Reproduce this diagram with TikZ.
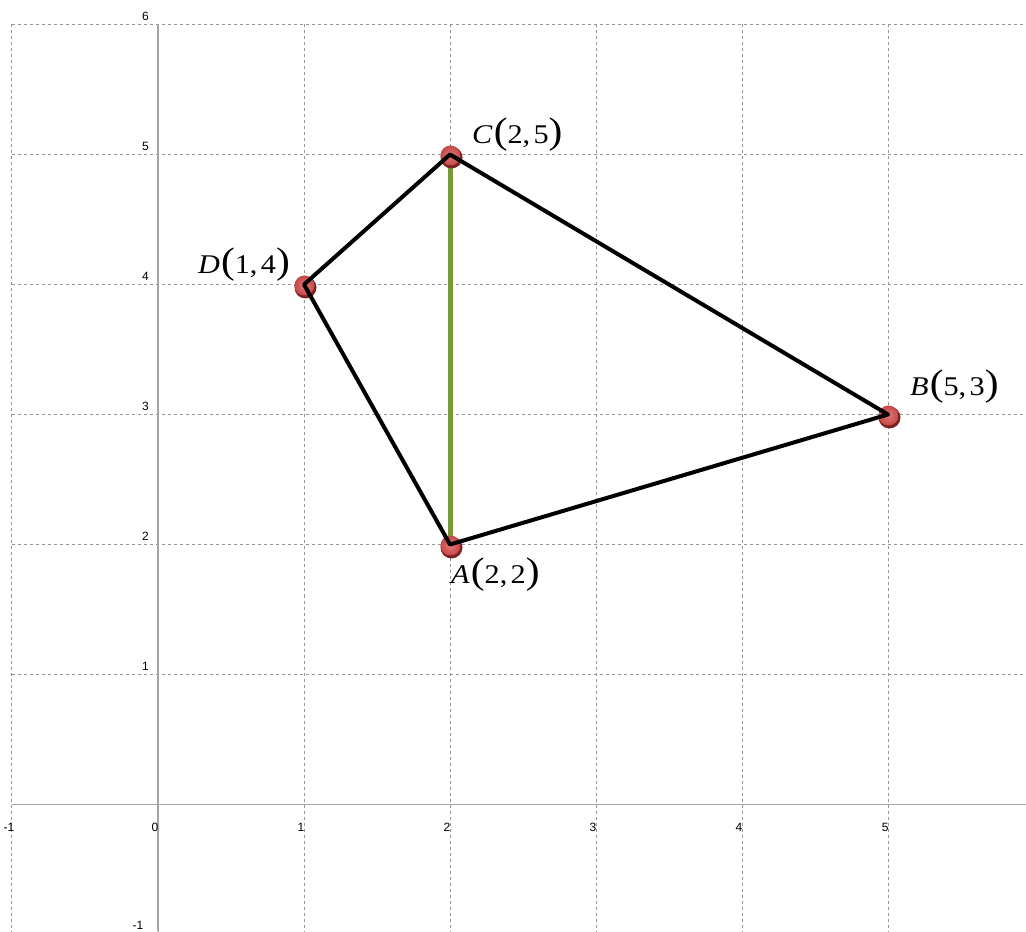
\documentclass[tikz,border=0pt]{standalone}
\usepackage{graphicx}
\usepackage{fontspec}
\setmainfont{Liberation Serif}
\newfontfamily\ticksf{Liberation Sans}
\newcommand{\bigpar}[1]{{\fontsize{37}{37}\selectfont #1}}
\newcommand{\ptlabel}[3]{\scalebox{1.12}[1]{\textit{#1}\hspace{1pt}\bigpar{(}#2,\hspace{3pt}#3\bigpar{)}}}
\definecolor{gridgray}{RGB}{150,150,150}
\definecolor{axisgray}{RGB}{165,165,165}
\definecolor{segGreen}{RGB}{122,154,58}
\definecolor{ptLight}{RGB}{228,118,118}
\definecolor{ptMid}{RGB}{196,72,72}
\definecolor{ptDark}{RGB}{125,35,35}
\tikzset{
  gridline/.style={draw=gridgray, line width=1pt, dash pattern=on 3pt off 3pt},
  axisline/.style={draw=axisgray, line width=1.6pt},
  edge/.style={draw=black, line width=4pt, line cap=round, line join=round},
  midseg/.style={draw=segGreen, line width=5pt},
  ptshadow/.style={circle, inner sep=0pt, minimum size=22pt, fill=ptDark},
  ptball/.style={circle, inner sep=0pt, minimum size=20pt, shading=radial, inner color=ptLight, outer color=ptMid},
  ticklab/.style={inner sep=0pt, font=\ticksf\fontsize{12}{12}\selectfont},
  ptlab/.style={inner sep=0pt, font=\fontsize{27}{27}\selectfont}
}
\begin{document}
\begin{tikzpicture}[x=146pt, y=130pt]
\path[use as bounding box] (-1.0822,-0.9731) rectangle (5.9452,6.1885);
% grid
\foreach \x in {-1,...,5} \draw[gridline] (\x,6) -- (\x,-0.9731);
\foreach \y in {0,...,6} \draw[gridline] (-1,\y) -- (5.9452,\y);
% axes
\draw[axisline] (-1,0) -- (5.9452,0);
\draw[axisline] (0,6) -- (0,-0.9731);
% tick labels
\foreach \x in {-1,...,5} \node[ticklab] (xl\x) at (\x-0.02,-0.173) {\x};
\foreach \y in {1,...,6} \node[ticklab] (yl\y) at (-0.086,\y+0.065) {\y};
\node[ticklab] (ylm1) at (-0.137,-0.928) {-1};
% points
\coordinate (A) at (2,2);
\coordinate (B) at (5,3);
\coordinate (C) at (2,5);
\coordinate (D) at (1,4);
\draw[midseg] (A) -- (C);
\foreach \p in {A,B,C,D} {
  \node[ptshadow] (shadow\p) at ([shift={(1.5pt,-3pt)}]\p) {};
  \node[ptball] (ball\p) at ([shift={(0.5pt,-1pt)}]\p) {};
}
\draw[edge] (A) -- (B) -- (C) -- (D) -- cycle;
% labels
\node[ptlab, anchor=base west] (labC) at ([shift={(22pt,11pt)}]C) {\ptlabel{C}{2}{5}};
\node[ptlab, anchor=base east] (labD) at ([shift={(-14pt,11pt)}]D) {\ptlabel{D}{1}{4}};
\node[ptlab, anchor=base west] (labB) at ([shift={(22pt,19pt)}]B) {\ptlabel{B}{5}{3}};
\node[ptlab, anchor=base west] (labA) at ([shift={(1pt,-39pt)}]A) {\ptlabel{A}{2}{2}};
\end{tikzpicture}
\end{document}
